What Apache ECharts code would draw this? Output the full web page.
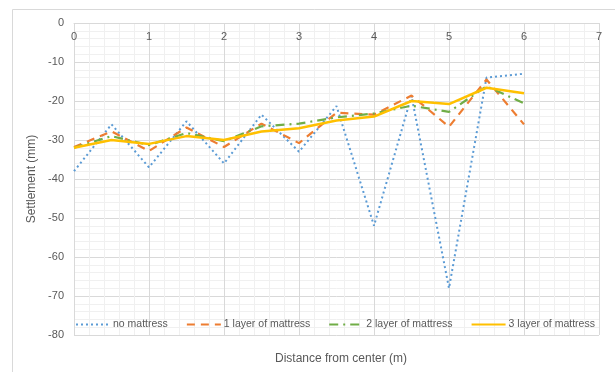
<!DOCTYPE html>
<html>
<head>
<meta charset="utf-8">
<script src="https://cdn.jsdelivr.net/npm/echarts@6/dist/echarts.min.js"></script>
<style>
html,body{margin:0;padding:0;background:#fff;}
#c{width:615px;height:372px;}
</style>
</head>
<body>
<div id="c"></div>
<script>
const distance = [0, 0.5, 1, 1.5, 2, 2.5, 3, 3.5, 4, 4.5, 5, 5.5, 6];
const noMattress = [-38, -26, -37, -25.2, -36, -23.5, -33, -21.3, -52, -18.7, -68, -14, -13];
const layer1 = [-31.8, -27.8, -32.8, -26.8, -31.8, -25.8, -30.8, -23, -23.5, -18.6, -26.6, -14.5, -26];
const layer2 = [-32, -29, -31.3, -28.2, -30.3, -26.5, -25.8, -24.2, -23.2, -21.2, -22.8, -16.2, -20.6];
const layer3 = [-32, -30, -31, -29, -30, -27.8, -27, -25, -24, -20, -20.8, -16.6, -18];
const seriesNames = ['no mattress', '1 layer of mattress', '2 layer of mattress', '3 layer of mattress'];

function pairs(ys){ return distance.map((x,i)=>[x, ys[i]]); }

const font = 'Liberation Sans, Arial, sans-serif';
const txt = '#595959';

const chart = echarts.init(document.getElementById('c'), null, {renderer:'canvas'});
chart.setOption({
  animation: false,
  backgroundColor: '#fff',
  graphic: [{
    type: 'rect', shape: {x: 12.5, y: 9.5, width: 640, height: 400},
    style: {fill: 'none', stroke: '#d9d9d9', lineWidth: 1}, silent: true, z: -10
  }],
  title: {
    text: 'Distance from center (m)', left: 336, top: 348, textAlign: 'center',
    textStyle: {fontFamily: font, fontSize: 12, fontWeight: 'normal', color: txt}
  },
  grid: {left: 74, right: 16, top: 23, bottom: 37, containLabel: false},
  legend: {
    data: seriesNames, left: 70, top: 314, itemWidth: 34, itemHeight: 12, itemGap: 18,
    itemStyle: {color: 'transparent', borderColor: 'transparent', borderWidth: 0},
    textStyle: {fontFamily: font, fontSize: 10.5, color: txt, padding: [0,0,0,-2]}
  },
  xAxis: {
    type: 'value', position: 'top', min: 0, max: 7, interval: 1,
    axisLine: {show: true, lineStyle: {color: '#d9d9d9'}},
    axisTick: {show: false},
    axisLabel: {inside: true, margin: 8, fontFamily: font, fontSize: 11, color: txt},
    splitLine: {show: true, lineStyle: {color: '#d9d9d9'}},
    minorTick: {show: false, splitNumber: 5},
    minorSplitLine: {show: true, lineStyle: {color: '#f0f0f0'}}
  },
  yAxis: {
    type: 'value', min: -80, max: 0, interval: 10,
    name: 'Settlement (mm)', nameLocation: 'middle', nameGap: 29,
    nameTextStyle: {fontFamily: font, fontSize: 12, color: txt},
    axisLine: {show: false}, axisTick: {show: false},
    axisLabel: {margin: 10, fontFamily: font, fontSize: 11, color: txt},
    splitLine: {show: true, lineStyle: {color: '#d9d9d9'}},
    minorTick: {show: false, splitNumber: 5},
    minorSplitLine: {show: true, lineStyle: {color: '#f0f0f0'}}
  },
  series: [
    {name: seriesNames[0], type: 'line', data: pairs(noMattress), symbol: 'none', color: '#5B9BD5',
     lineStyle: {width: 2, type: [2, 3], color: '#5B9BD5'}},
    {name: seriesNames[1], type: 'line', data: pairs(layer1), symbol: 'none', color: '#ED7D31',
     lineStyle: {width: 2.2, type: [8, 6], color: '#ED7D31'}},
    {name: seriesNames[2], type: 'line', data: pairs(layer2), symbol: 'none', color: '#70AD47',
     lineStyle: {width: 2.2, type: [9, 5, 2, 5], color: '#70AD47'}},
    {name: seriesNames[3], type: 'line', data: pairs(layer3), symbol: 'none', color: '#FFC000',
     lineStyle: {width: 2.5, type: 'solid', color: '#FFC000'}}
  ]
});
</script>
</body>
</html>
